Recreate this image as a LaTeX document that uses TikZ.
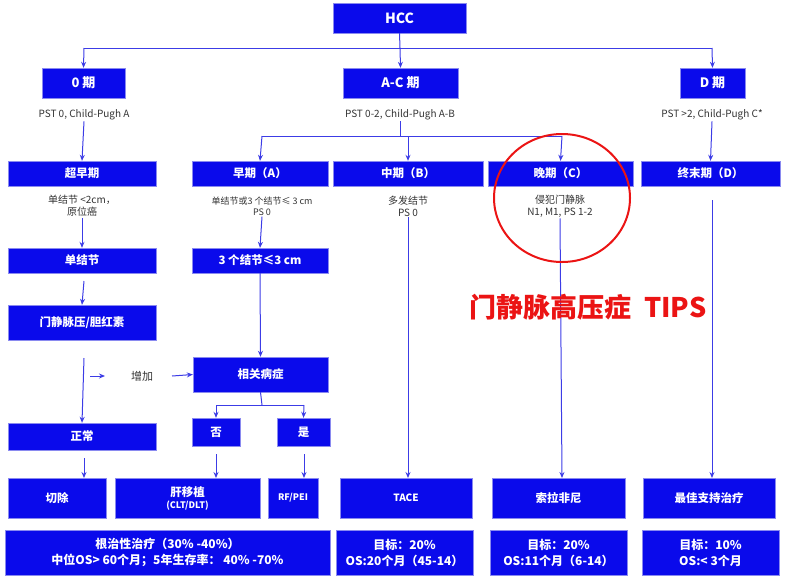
\documentclass[tikz,border=0pt]{standalone}
\usepackage{fontspec}
\setmainfont{Noto Sans CJK SC}
\usetikzlibrary{arrows.meta}
\definecolor{bx}{RGB}{10,10,235}
\definecolor{ln}{RGB}{60,60,230}
\definecolor{rd}{RGB}{235,20,20}
\tikzset{
 bb/.style={draw=ln!60,fill=bx,text=white,font=\bfseries\fontsize{11.5}{13}\selectfont,inner sep=0pt,align=center},
 lbl/.style={font=\fontsize{10}{12}\selectfont,align=center,text=black!80,inner sep=1pt},
 ar/.style={draw=ln,line width=1pt,-{Stealth[length=6pt,width=5pt]}},
 ln/.style={draw=ln,line width=1pt}
}
\newcommand{\bxat}[6]{\node[bb,minimum width=#4-#2,minimum height=#5-#3] (#1) at ({(#2+#4)/2},{(#3+#5)/2}) {#6};}
\begin{document}
\begin{tikzpicture}[x=1pt,y=-1pt]
\useasboundingbox (0,0) rectangle (789,579);
\bxat{hcc}{333}{3}{466}{33}{\fontsize{14}{16}\selectfont HCC}
\bxat{s0}{42}{68}{125}{98}{\fontsize{13}{15}\selectfont 0 期}
\bxat{sac}{343}{68}{458}{98}{\fontsize{13}{15}\selectfont A-C 期}
\bxat{sd}{680}{68}{745}{98}{\fontsize{13}{15}\selectfont D 期}
\node[lbl] (t0) at (84,115) {PST 0, Child-Pugh A};
\node[lbl] (tac) at (400,115) {PST 0-2, Child-Pugh A-B};
\node[lbl] (td) at (712,115) {PST >2, Child-Pugh C*};
\bxat{vea}{8}{161}{156}{186}{超早期}
\bxat{ea}{192}{161}{328}{186}{早期（A）}
\bxat{mid}{333}{161}{483}{186}{中期（B）}
\bxat{lat}{488}{161}{633}{186}{晚期（C）}
\bxat{end}{641}{161}{780}{186}{终末期（D）}
\node[lbl] (tvea) at (82,206) {单结节 <2cm，\\原位癌};
\node[lbl,font=\fontsize{9}{11}\selectfont] (tea) at (262,206) {单结节或3 个结节≤ 3 cm\\PS 0};
\node[lbl] (tmid) at (408,206) {多发结节\\PS 0};
\node[lbl] (tlat) at (560,206) {侵犯门静脉\\N1, M1, PS 1-2};
\coordinate (tend) at (712,200);
\bxat{sn}{8}{248}{156}{273}{单结节}
\bxat{n3}{192}{248}{328}{273}{3 个结节≤3 cm}
\bxat{pv}{8}{305}{156}{340}{门静脉压/胆红素}
\bxat{rel}{193}{357}{328}{392}{相关病症}
\node[lbl,font=\fontsize{11}{13}\selectfont] (inc) at (142,376) {增加};
\bxat{no}{192}{418}{240}{446}{否}
\bxat{yes}{277}{418}{330}{446}{是}
\bxat{nor}{8}{423}{156}{450}{正常}
\bxat{res}{8}{478}{106}{518}{切除}
\bxat{lt}{115}{478}{260}{518}{肝移植\\[-1pt]{\fontsize{9}{11}\selectfont (CLT/DLT)}}
\bxat{rf}{268}{478}{318}{518}{\fontsize{9}{11}\selectfont RF/PEI}
\bxat{tace}{340}{478}{472}{518}{\fontsize{10}{12}\selectfont TACE}
\bxat{sor}{492}{478}{625}{518}{索拉非尼}
\bxat{bsc}{643}{478}{775}{518}{最佳支持治疗}
\tikzset{fb/.style={bb,font=\bfseries\fontsize{12}{16}\selectfont}}
\node[fb,minimum width=325,minimum height=45] (f1) at (167.5,552.5) {根治性治疗（30\% -40\%）\\中位OS> 60个月；5年生存率： 40\% -70\%};
\node[fb,minimum width=137,minimum height=45] (f2) at (404.5,552.5) {目标：20\%\\OS:20个月（45-14）};
\node[fb,minimum width=137,minimum height=45] (f3) at (558.5,552.5) {目标：20\%\\OS:11个月（6-14）};
\node[fb,minimum width=137,minimum height=45] (f4) at (710.5,552.5) {目标：10\%\\OS:< 3个月};
% connectors
\coordinate (j) at (400,48);
\draw[ln] (hcc.south) -- (j);
\draw[ln] (84,48) -- (712,48);
\draw[ar] (84,48) -- (s0.north);
\draw[ar] (j) -- (sac.north);
\draw[ar] (712,48) -- (sd.north);
\draw[ln] (tac.south) -- (400,136);
\draw[ln] (262,136) -- (562,136);
\draw[ar] (262,136) -- (ea.north);
\draw[ar] (408,136) -- (mid.north);
\draw[ar] (562,136) -- (lat.north);
\draw[ar] (t0.south) -- (vea.north);
\draw[ar] (td.south) -- (end.north);
\draw[ar] (tvea.south) -- (sn.north);
\draw[ar] (84,281) -- (pv.north);
\draw[ar] (84,358) -- (nor.north);
\coordinate (br) at (90,376);
\draw[ar] (br) -- (105,376);
\draw[ar] (172,376) -- (rel.west);
\draw[ar] (tea.south) -- (n3.north);
\draw[ar] (n3.south) -- (rel.north);
\draw[ln] (rel.south) -- (262,405);
\draw[ln] (216,405) -- (304,405);
\draw[ar] (216,405) -- (no.north);
\draw[ar] (304,405) -- (yes.north);
\draw[ar] (84,458) -- (84,478);
\draw[ar] (216,454) -- (216,478);
\draw[ar] (304,454) -- (304,478);
\draw[ar] (tmid.south) -- (408,478);
\draw[ar] (tlat.south) -- (562,478);
\draw[ar] (tend) -- (712,478);
\draw[rd,line width=2pt] (562,198) ellipse (68 and 64);
\node[text=rd,font=\bfseries\fontsize{27}{30}\selectfont] (tips) at (588,307) {门静脉高压症\ \ TIPS};
\end{tikzpicture}
\end{document}
